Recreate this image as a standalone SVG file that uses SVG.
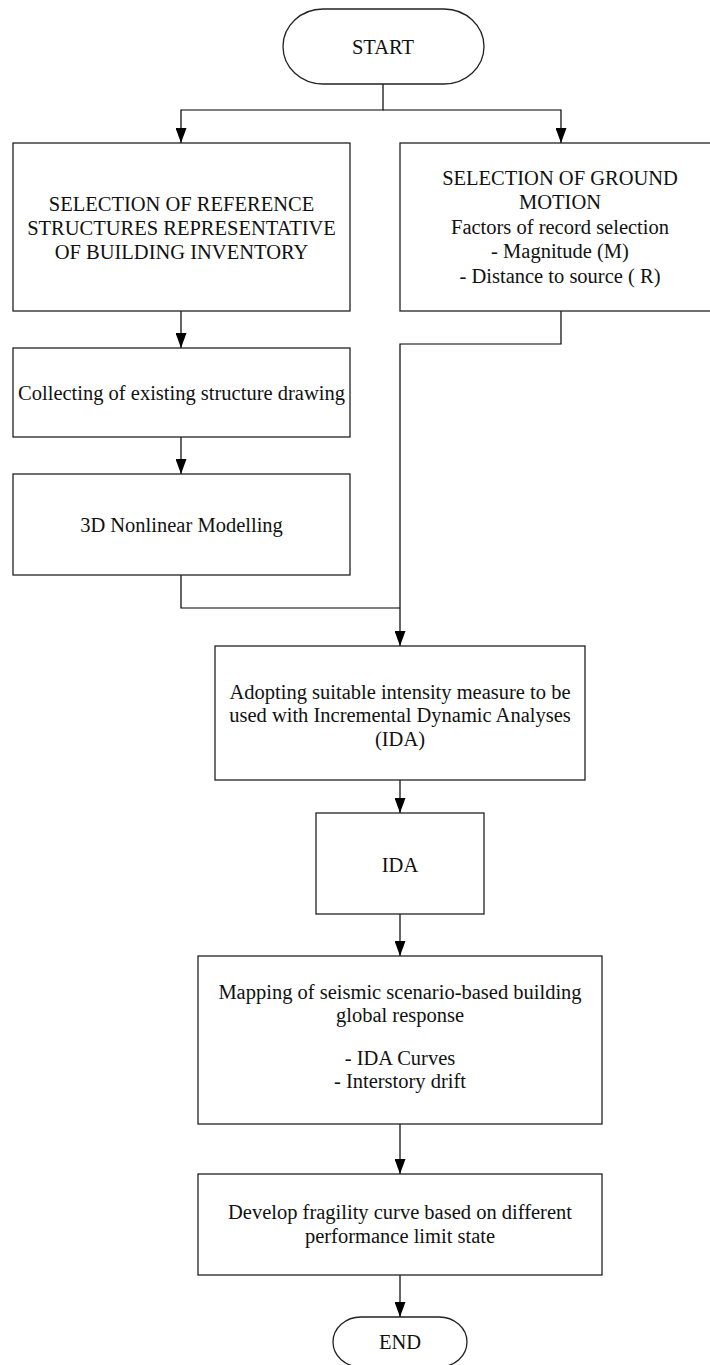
<svg xmlns="http://www.w3.org/2000/svg" width="710" height="1365" viewBox="0 0 710 1365">
<style>
.box{fill:#fff;stroke:#222;stroke-width:1.3}
.t{font-family:"Liberation Serif","Times New Roman",serif;font-size:20.5px;fill:#111;text-anchor:middle}
.c{fill:none;stroke:#000;stroke-width:1.2}
</style>
<defs>
<marker id="ah" viewBox="0 0 15 11" refX="15" refY="5.5" markerWidth="15" markerHeight="11" markerUnits="userSpaceOnUse" orient="auto">
<path d="M0,0 L15,5.5 L0,11 z" fill="#000"/>
</marker>
</defs>
<rect width="710" height="1365" fill="#fff"/>
<g id="connectors">
<path class="c" d="M383,84 V110 H181 V143" marker-end="url(#ah)"/>
<path class="c" d="M383,110 H561 V143" marker-end="url(#ah)"/>
<path class="c" d="M181,311 V348" marker-end="url(#ah)"/>
<path class="c" d="M181,437 V474" marker-end="url(#ah)"/>
<path class="c" d="M181,575 V608 H400"/>
<path class="c" d="M561,311 V344 H400 V646" marker-end="url(#ah)"/>
<path class="c" d="M400,780 V813" marker-end="url(#ah)"/>
<path class="c" d="M400,914 V956" marker-end="url(#ah)"/>
<path class="c" d="M400,1124 V1174" marker-end="url(#ah)"/>
<path class="c" d="M400,1275 V1317" marker-end="url(#ah)"/>
</g>
<g id="start">
<rect class="box" x="283" y="9" width="201" height="75" rx="40" ry="37.5"/>
<text class="t" x="383" y="54">START</text>
</g>
<g id="selection-reference">
<rect class="box" x="13" y="143" width="337" height="168"/>
<text class="t" x="181.5" y="211">SELECTION OF REFERENCE</text>
<text class="t" x="181.5" y="235">STRUCTURES REPRESENTATIVE</text>
<text class="t" x="181.5" y="259">OF BUILDING INVENTORY</text>
</g>
<g id="selection-ground">
<rect class="box" x="400" y="143" width="320" height="168"/>
<text class="t" x="560" y="185">SELECTION OF GROUND</text>
<text class="t" x="560" y="209">MOTION</text>
<text class="t" x="560" y="234">Factors of record selection</text>
<text class="t" x="560" y="258">- Magnitude (M)</text>
<text class="t" x="560" y="283">- Distance to source ( R)</text>
</g>
<g id="collecting">
<rect class="box" x="13" y="348" width="337" height="89"/>
<text class="t" x="181.5" y="400">Collecting of existing structure drawing</text>
</g>
<g id="modelling">
<rect class="box" x="13" y="474" width="337" height="101"/>
<text class="t" x="181.5" y="532">3D Nonlinear Modelling</text>
</g>
<g id="adopting">
<rect class="box" x="215" y="646" width="370" height="134"/>
<text class="t" x="400" y="699">Adopting suitable intensity measure to be</text>
<text class="t" x="400" y="722">used with Incremental Dynamic Analyses</text>
<text class="t" x="400" y="746">(IDA)</text>
</g>
<g id="ida">
<rect class="box" x="316" y="813" width="168" height="101"/>
<text class="t" x="400" y="872">IDA</text>
</g>
<g id="mapping">
<rect class="box" x="198" y="956" width="404" height="168"/>
<text class="t" x="400" y="999">Mapping of seismic scenario-based building</text>
<text class="t" x="400" y="1022">global response</text>
<text class="t" x="400" y="1065">- IDA Curves</text>
<text class="t" x="400" y="1088">- Interstory drift</text>
</g>
<g id="develop">
<rect class="box" x="198" y="1174" width="404" height="101"/>
<text class="t" x="400" y="1219">Develop fragility curve based on different</text>
<text class="t" x="400" y="1243">performance limit state</text>
</g>
<g id="end">
<rect class="box" x="333" y="1317" width="134" height="50" rx="28" ry="25"/>
<text class="t" x="400" y="1349">END</text>
</g>
</svg>
